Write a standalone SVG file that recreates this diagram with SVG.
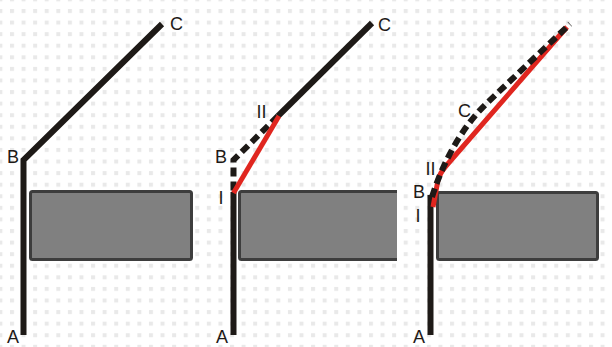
<svg xmlns="http://www.w3.org/2000/svg" width="612" height="347" viewBox="0 0 612 347">
<defs>
<pattern id="dots" x="10" y="9" width="11.58" height="11.58" patternUnits="userSpaceOnUse">
<rect width="4" height="4" fill="#e9e9e9"/>
</pattern>
<style>
.blk{fill:none;stroke:#1e1a17;stroke-width:6;stroke-linejoin:miter;stroke-linecap:butt}
.dash{fill:none;stroke:#1e1a17;stroke-width:6;stroke-dasharray:9 5}
.red{fill:none;stroke:#e0261f;stroke-width:5}
.box{fill:#808080;stroke:#3d3d3d;stroke-width:3}
.lbl{font-family:"Liberation Sans",Arial,sans-serif;font-size:18px;fill:#1e1a17}
</style>
</defs>
<rect width="612" height="347" fill="#ffffff"/>
<rect width="612" height="347" fill="url(#dots)"/>

<g id="panel1">
<rect class="box" x="30.5" y="191.5" width="161" height="68" rx="2"/>
<path class="blk" d="M23.5,335 V160 L162,24"/>
<text class="lbl" x="7" y="163">B</text>
<text class="lbl" x="170" y="30">C</text>
<text class="lbl" x="7" y="343">A</text>
</g>

<g id="panel2">
<rect x="239.5" y="191.5" width="157.5" height="68" fill="#808080"/>
<path d="M397,191.5 H241.5 Q239.5,191.5 239.5,193.5 V257.5 Q239.5,259.5 241.5,259.5 H397" fill="none" stroke="#3d3d3d" stroke-width="3"/>
<g id="connectors2">
<path class="blk" d="M233.5,335 V192"/>
<path class="dash" d="M278,116 L233.5,160 V192"/>
<path class="blk" d="M278,116 L372,23"/>
<path class="red" d="M233.5,193 L279,116"/>
</g>
<text class="lbl" x="215" y="163">B</text>
<text class="lbl" x="378" y="31">C</text>
<text class="lbl" x="216" y="343">A</text>
<text class="lbl" x="218.5" y="204">I</text>
<text class="lbl" x="256.5" y="118">II</text>
</g>

<g id="panel3">
<rect class="box" x="437.5" y="192.5" width="160" height="67" rx="2"/>
<g id="connectors3">
<path class="blk" d="M430.5,335 V195"/>
<path class="red" d="M433,207 L438,180 Q440,173 446,166 L567,27"/>
<path class="dash" d="M432,197 C443,162 462,127 487,103 L570,24"/>
</g>
<text class="lbl" x="413" y="198">B</text>
<text class="lbl" x="415.5" y="222">I</text>
<text class="lbl" x="425.5" y="175">II</text>
<text class="lbl" x="458" y="117">C</text>
<text class="lbl" x="413" y="343">A</text>
</g>
</svg>
